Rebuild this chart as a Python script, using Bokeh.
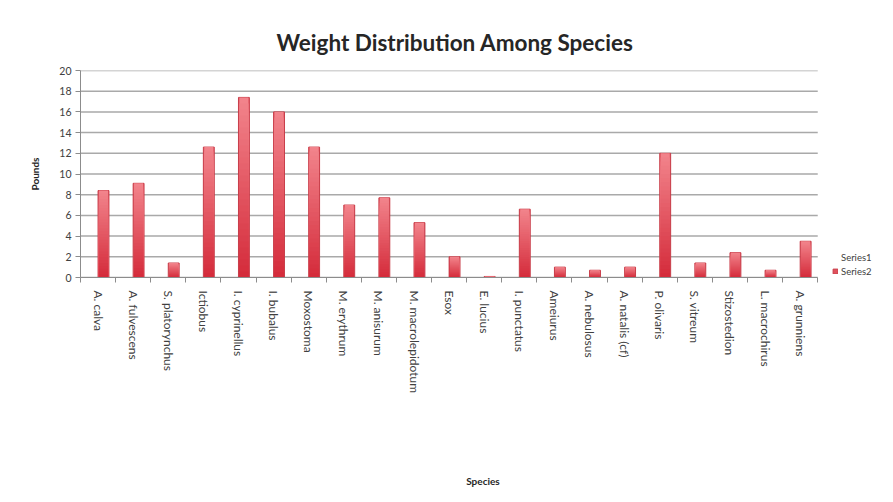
from bokeh.plotting import figure
from bokeh.models import (Range1d, LinearAxis, FixedTicker, Legend, LegendItem,
                          ColumnDataSource)
from bokeh.embed import file_html
from bokeh.resources import INLINE

# Species on the category axis
species = [
    "A. calva", "A. fulvescens", "S. platorynchus", "Ictiobus", "I. cyprinellus",
    "I. bubalus", "Moxostoma", "M. erythrum", "M. anisurum", "M. macrolepidotum",
    "Esox", "E. lucius", "I. punctatus", "Ameiurus", "A. nebulosus", "A. natalis (cf)",
    "P. olivaris", "S. vitreum", "Stizostedion", "L. macrochirus", "A. grunniens",
]
# Weight in pounds (Series2); Series1 carries no values
series2_pounds = [8.4, 9.1, 1.4, 12.6, 17.4, 16.0, 12.6, 7.0, 7.7, 5.3,
                  2.0, 0.1, 6.6, 1.0, 0.7, 1.0, 12.0, 1.4, 2.4, 0.7, 3.5]
series1_pounds = []
y_ticks = [0, 2, 4, 6, 8, 10, 12, 14, 16, 18, 20]

FONT = "Lato"
TEXT = "#404040"
GRID = "#a9a9a9"
AXIS = "#8c8c8c"

n = len(species)
slot = list(range(n))                       # category centres
edges = [i - 0.5 for i in range(n + 1)]     # category boundaries
LEGEND_ROOM = 1.93                          # extra slots on the right for the key

p = figure(width=893, height=502,
           x_range=Range1d(-0.5, n - 0.5 + LEGEND_ROOM), y_range=Range1d(0, 20),
           x_axis_location=None, y_axis_location=None,
           output_backend="svg", toolbar_location=None,
           min_border_left=80, min_border_right=8,
           min_border_top=70, min_border_bottom=225)
p.xgrid.visible = False
p.ygrid.visible = False
p.outline_line_color = None
p.background_fill_color = "white"
p.border_fill_color = "white"

p.title.text = "Weight Distribution Among Species"
p.title.align = "left"
p.title.offset = 196
p.title.text_font = FONT
p.title.text_font_size = "22.5px"
p.title.text_font_style = "bold"
p.title.text_color = "#262626"
p.title.standoff = 29

# horizontal gridlines across the category span
grid_src = ColumnDataSource(data=dict(y=y_ticks, x0=[-0.5] * len(y_ticks),
                                      x1=[n - 0.5] * len(y_ticks)))
p.segment(x0="x0", x1="x1", y0="y", y1="y", source=grid_src,
          line_color=GRID, line_width=1.5)

# value axis
yaxis = LinearAxis(ticker=FixedTicker(ticks=y_ticks), axis_label="Pounds")
yaxis.axis_line_color = AXIS
yaxis.major_tick_line_color = AXIS
yaxis.major_tick_out = 5
yaxis.major_tick_in = 0
yaxis.minor_tick_line_color = None
yaxis.major_label_text_font = FONT
yaxis.major_label_text_font_size = "10.5px"
yaxis.major_label_text_color = TEXT
yaxis.major_label_standoff = 4
yaxis.axis_label_text_font = FONT
yaxis.axis_label_text_font_size = "10px"
yaxis.axis_label_text_font_style = "bold"
yaxis.axis_label_text_color = "#262626"
yaxis.axis_label_standoff = 15
p.add_layout(yaxis, "left")

# tick marks between categories
edge_axis = LinearAxis(ticker=FixedTicker(ticks=edges), bounds=(-0.5, n - 0.5))
edge_axis.axis_line_color = AXIS
edge_axis.major_tick_line_color = AXIS
edge_axis.major_tick_out = 5
edge_axis.major_tick_in = 0
edge_axis.minor_tick_line_color = None
edge_axis.major_label_overrides = {e: "" for e in edges}
edge_axis.major_label_text_font_size = "1px"
edge_axis.major_label_standoff = 0
p.add_layout(edge_axis, "below")

# category labels
xaxis = LinearAxis(ticker=FixedTicker(ticks=slot), axis_label="Species",
                   bounds=(-0.5, n - 0.5))
xaxis.major_label_overrides = {i: name for i, name in zip(slot, species)}
xaxis.axis_line_color = None
xaxis.major_tick_line_color = None
xaxis.minor_tick_line_color = None
xaxis.major_label_orientation = "vertical"
xaxis.major_label_text_font = FONT
xaxis.major_label_text_font_size = "12px"
xaxis.major_label_text_color = TEXT
xaxis.major_label_standoff = 2
xaxis.axis_label_text_font = FONT
xaxis.axis_label_text_font_size = "10px"
xaxis.axis_label_text_font_style = "bold"
xaxis.axis_label_text_color = "#262626"
xaxis.axis_label_standoff = 79
p.add_layout(xaxis, "below")

OFFSET = 0.155
WIDTH = 0.31

# Series1 (no data)
s1 = ColumnDataSource(data=dict(x=[i - OFFSET for i in slot[:len(series1_pounds)]],
                                top=series1_pounds))
r1 = p.vbar(x="x", top="top", width=WIDTH, source=s1,
            fill_color="#4f81bd", line_color="#3c6aa0")

# Series2 base bars
s2 = ColumnDataSource(data=dict(x=[i + OFFSET for i in slot], top=series2_pounds))
r2 = p.vbar(x="x", top="top", width=WIDTH, source=s2,
            fill_color="#e0505c", line_color="#c83c48", line_width=1)

# vertical shading of each bar: light at the top, deepening towards the base
def mix(c0, c1, t):
    a = [int(c0[i:i + 2], 16) for i in (1, 3, 5)]
    b = [int(c1[i:i + 2], 16) for i in (1, 3, 5)]
    return "#" + "".join(f"{round(a[k] + (b[k] - a[k]) * t):02x}" for k in range(3))

N = 30
gx, gt, gc = [], [], []
for k in range(N, 0, -1):
    for i, v in zip(slot, series2_pounds):
        gx.append(i + OFFSET)
        gt.append(v * k / N)
        gc.append(mix("#d42a3a", "#f2858c", (k - 0.5) / N))
sg = ColumnDataSource(data=dict(x=gx, top=gt, color=gc))
p.vbar(x="x", bottom=0, top="top", width=WIDTH - 0.05, source=sg,
       fill_color="color", line_color=None)

legend = Legend(items=[LegendItem(label="Series1", renderers=[r1]),
                       LegendItem(label="Series2", renderers=[r2])],
                location=(752, 0))
legend.border_line_color = None
legend.background_fill_alpha = 0
legend.label_text_font = FONT
legend.label_text_font_size = "9.5px"
legend.label_text_color = TEXT
legend.glyph_width = 6
legend.glyph_height = 6
legend.label_height = 12
legend.label_standoff = 3
legend.spacing = 2
legend.padding = 2
legend.margin = 0
p.add_layout(legend, "center")

open("out.html", "w").write(file_html(p, INLINE))
